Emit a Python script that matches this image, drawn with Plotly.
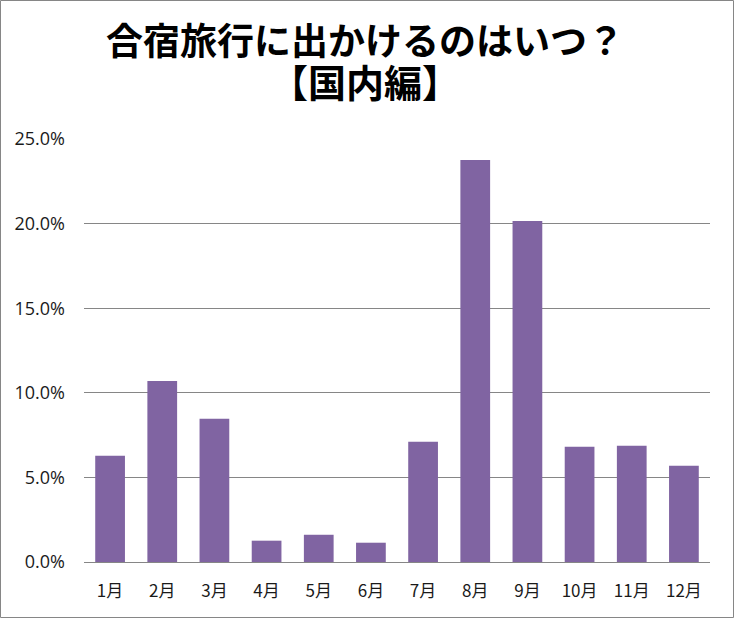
import plotly.graph_objects as go

months = ["1月", "2月", "3月", "4月", "5月", "6月", "7月", "8月", "9月", "10月", "11月", "12月"]
share = [0.0628, 0.107, 0.0846, 0.0126, 0.0161, 0.0114, 0.071, 0.2376, 0.2016, 0.0681, 0.0687, 0.0569]
y_ticks = [0, 0.05, 0.10, 0.15, 0.20, 0.25]
title_lines = ["合宿旅行に出かけるのはいつ？", "【国内編】"]

W, H = 734, 618
ml, mr, mt, mb = 84, 24, 139, 56
pw, ph = W - ml - mr, H - mt - mb

def py(pix):
    # pixel y (from top) -> paper y
    return (H - mb - pix) / ph

def px(pix):
    return (pix - ml) / pw

title_text = ("<b><span style='font-size:37px'>" + title_lines[0] + "</span><br>"
              "<span style='font-size:38px'>" + title_lines[1] + "</span></b>")

fig = go.Figure(go.Bar(x=months, y=share, marker_color="#8064A2", marker_line_width=0))

fig.update_layout(
    width=W, height=H,
    margin=dict(l=ml, r=mr, t=mt, b=mb),
    paper_bgcolor="white", plot_bgcolor="white",
    bargap=0.43,
    showlegend=False,
    xaxis=dict(
        showgrid=False, showline=True, linecolor="#868686", linewidth=1,
        ticks="", tickfont=dict(family="Noto Sans CJK JP", size=17, color="#1a1a1a"),
        ticklabelstandoff=14,
    ),
    yaxis=dict(
        range=[0, 0.25], tickvals=y_ticks, tickformat=".1%",
        showgrid=True, gridcolor="#868686", gridwidth=1,
        zeroline=False, showline=False, ticks="",
        tickfont=dict(family="Open Sans", size=18, color="#1a1a1a"),
        ticklabelstandoff=18,
    ),
    annotations=[
        dict(text=title_text, xref="paper", yref="paper",
             x=px(W / 2 - 2), y=py(60), xanchor="center", yanchor="middle", showarrow=False,
             font=dict(family="Noto Sans CJK JP", size=32, color="black")),
    ],
    shapes=[dict(
        type="rect", xref="paper", yref="paper",
        x0=px(0.5), x1=px(W - 0.5),
        y0=py(H - 0.5), y1=py(0.5),
        line=dict(color="#868686", width=1), fillcolor="rgba(0,0,0,0)", layer="below",
    )],
)

fig.write_html("out.html", config={"displayModeBar": False},
               post_script="document.body.style.margin='0';document.body.style.padding='0';")
